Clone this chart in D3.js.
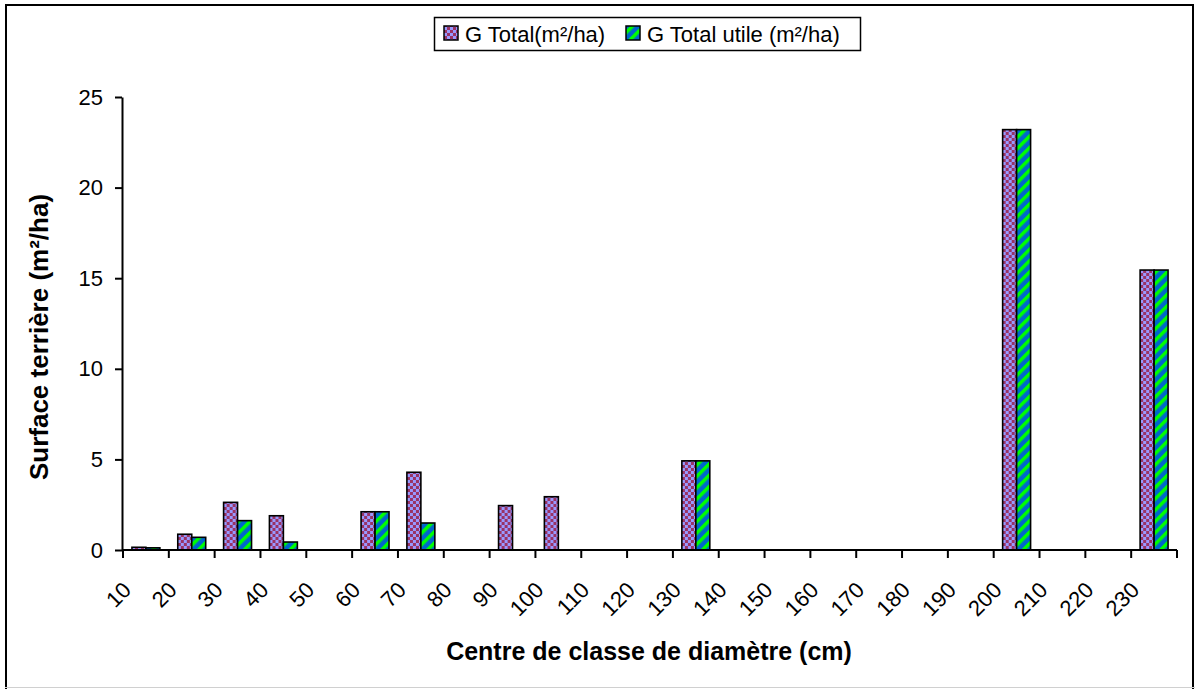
<!DOCTYPE html>
<html>
<head>
<meta charset="utf-8">
<script src="https://cdn.jsdelivr.net/npm/d3@7"></script>
<style>
  body { margin: 0; background: #fff; }
  text { font-family: "Liberation Sans", Arial, sans-serif; }
</style>
</head>
<body>
<div id="main"></div>
<script>
const WIDTH = 1195, HEIGHT = 689;

// Chart data
const classes = [10, 20, 30, 40, 50, 60, 70, 80, 90, 100, 110, 120, 130, 140, 150, 160, 170, 180, 190, 200, 210, 220, 230];
const gTotal  = [0.15, 0.87, 2.63, 1.89, 0, 2.11, 4.29, 0, 2.45, 2.94, 0, 0, 4.92, 0, 0, 0, 0, 0, 0, 23.2, 0, 0, 15.45];
const gUtile  = [0.12, 0.70, 1.62, 0.44, 0, 2.11, 1.49, 0, 0, 0, 0, 0, 4.92, 0, 0, 0, 0, 0, 0, 23.2, 0, 0, 15.45];
const seriesNames = ["G Total(m²/ha)", "G Total utile (m²/ha)"];
const yTicks = [0, 5, 10, 15, 20, 25];

const margin = { left: 122, right: 18, top: 97, bottom: 139 };

const svg = d3.select("#main").append("svg")
    .attr("width", WIDTH)
    .attr("height", HEIGHT);

// Patterns
const defs = svg.append("defs");
const check = defs.append("pattern")
    .attr("id", "checker")
    .attr("patternUnits", "userSpaceOnUse")
    .attr("width", 6).attr("height", 6);
check.append("rect").attr("width", 6).attr("height", 6).attr("fill", "#9999ff");
check.append("rect").attr("width", 3).attr("height", 3).attr("fill", "#993366");
check.append("rect").attr("x", 3).attr("y", 3).attr("width", 3).attr("height", 3).attr("fill", "#993366");

const stripe = defs.append("pattern")
    .attr("id", "stripes")
    .attr("patternUnits", "userSpaceOnUse")
    .attr("width", 8).attr("height", 8)
    .attr("patternTransform", "rotate(45)");
stripe.append("rect").attr("width", 8).attr("height", 8).attr("fill", "#0066cc");
stripe.append("rect").attr("width", 3.5).attr("height", 8).attr("fill", "#00ff00");

const fills = ["url(#checker)", "url(#stripes)"];

// Outer frame
svg.append("rect")
    .attr("x", 6).attr("y", 5)
    .attr("width", 1187).attr("height", 700)
    .attr("fill", "none")
    .attr("stroke", "#000")
    .attr("stroke-width", 2);
svg.append("line")
    .attr("x1", 5).attr("x2", 1195)
    .attr("y1", 687.5).attr("y2", 687.5)
    .attr("stroke", "#d0d0d0");

// Scales
const x = d3.scaleBand()
    .domain(classes)
    .range([margin.left + 1, WIDTH - margin.right])
    .paddingInner(0).paddingOuter(0);

const xSub = d3.scaleBand()
    .domain([0, 1])
    .range([0, x.bandwidth()])
    .paddingOuter(0.64).paddingInner(0);

const y = d3.scaleLinear()
    .domain([0, 25])
    .range([HEIGHT - margin.bottom, margin.top]);

// Bars
const rows = classes.map((c, i) => ({ c, v: [gTotal[i], gUtile[i]] }));
const groups = svg.append("g").selectAll("g")
    .data(rows)
    .enter().append("g")
    .attr("transform", d => `translate(${x(d.c)},0)`);

groups.selectAll("rect")
    .data(d => d.v.map((v, k) => ({ v, k })).filter(e => e.v > 0))
    .enter().append("rect")
    .attr("x", e => xSub(e.k))
    .attr("y", e => y(e.v))
    .attr("width", xSub.bandwidth())
    .attr("height", e => y(0) - y(e.v))
    .attr("fill", e => fills[e.k])
    .attr("stroke", "#000")
    .attr("stroke-width", 1.6);

// Y axis
const yAxis = svg.append("g")
    .attr("transform", `translate(${margin.left},0)`)
    .call(d3.axisLeft(y).tickValues(yTicks).tickSize(7).tickPadding(12).tickSizeOuter(0));
yAxis.select(".domain").attr("stroke", "#000").attr("stroke-width", 2);
yAxis.selectAll(".tick line").attr("stroke", "#000").attr("stroke-width", 2);
yAxis.selectAll(".tick text")
    .attr("font-size", 22)
    .attr("fill", "#000")
    .attr("font-family", "Liberation Sans, Arial, sans-serif");

// X axis (ticks between categories, labels at left boundary)
const xAxisG = svg.append("g");
xAxisG.append("line")
    .attr("x1", margin.left).attr("x2", WIDTH - margin.right)
    .attr("y1", y(0)).attr("y2", y(0))
    .attr("stroke", "#000").attr("stroke-width", 2);
const bounds = classes.map(c => x(c)).concat([x(classes[classes.length - 1]) + x.bandwidth()]);
xAxisG.selectAll("line.tk")
    .data(bounds)
    .enter().append("line")
    .attr("class", "tk")
    .attr("x1", d => d).attr("x2", d => d)
    .attr("y1", y(0)).attr("y2", y(0) + 8)
    .attr("stroke", "#000").attr("stroke-width", 2);
xAxisG.selectAll("text")
    .data(classes)
    .enter().append("text")
    .attr("transform", d => `translate(${x(d) + 4},${y(0) + 36}) rotate(-45)`)
    .attr("text-anchor", "end")
    .attr("dy", "0.35em")
    .attr("font-size", 22)
    .attr("fill", "#000")
    .text(d => d);

// Axis titles
svg.append("text")
    .attr("x", 649).attr("y", 660)
    .attr("text-anchor", "middle")
    .attr("font-size", 25)
    .attr("font-weight", "bold")
    .text("Centre de classe de diamètre (cm)");

svg.append("text")
    .attr("transform", "translate(48,337) rotate(-90)")
    .attr("text-anchor", "middle")
    .attr("font-size", 26)
    .attr("font-weight", "bold")
    .text("Surface terrière (m²/ha)");

// Legend
const legend = svg.append("g");
legend.append("rect")
    .attr("x", 434.5).attr("y", 17.5)
    .attr("width", 426).attr("height", 33)
    .attr("fill", "#fff")
    .attr("stroke", "#000")
    .attr("stroke-width", 1.5);
const legendX = [444, 626];
seriesNames.forEach((name, k) => {
    legend.append("rect")
        .attr("x", legendX[k]).attr("y", 26)
        .attr("width", 14).attr("height", 14)
        .attr("fill", fills[k])
        .attr("stroke", "#000")
        .attr("stroke-width", 1.5);
    legend.append("text")
        .attr("x", legendX[k] + 21).attr("y", 42)
        .attr("font-size", 22)
        .text(name);
});
</script>
</body>
</html>
